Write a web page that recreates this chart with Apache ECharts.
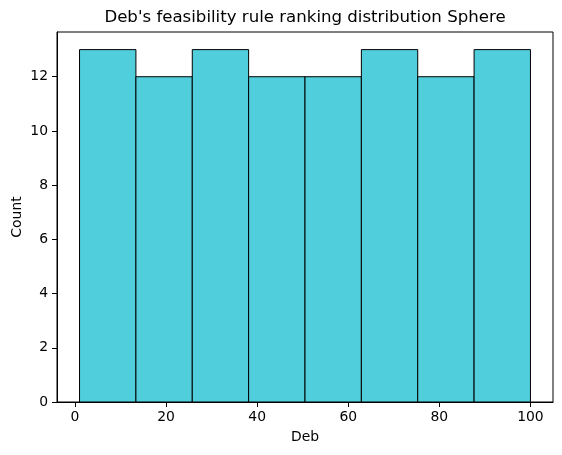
<!DOCTYPE html>
<html>
<head>
<meta charset="utf-8">
<script src="https://cdn.jsdelivr.net/npm/echarts@6/dist/echarts.min.js"></script>
<style>html,body{margin:0;padding:0;background:#fff}#c{width:562px;height:455px}</style>
</head>
<body>
<div id="c"></div>
<script>
const binEdges = [1, 13.375, 25.75, 38.125, 50.5, 62.875, 75.25, 87.625, 100];
const counts = [13, 12, 13, 12, 12, 13, 12, 13];
const xTicks = [0, 20, 40, 60, 80, 100];
const yTicks = [0, 2, 4, 6, 8, 10, 12];
const titleText = "Deb's feasibility rule ranking distribution Sphere";

const data = counts.map((c, i) => [binEdges[i], binEdges[i + 1], c]);
const font = 'DejaVu Sans';
const chart = echarts.init(document.getElementById('c'), null, {renderer: 'canvas'});
chart.setOption({
  animation: false,
  backgroundColor: '#fff',
  graphic: [{
    type: 'text', x: 305, y: 17.5,
    style: {text: titleText, font: '16.6px "DejaVu Sans"', fill: '#000', textAlign: 'center', textVerticalAlign: 'middle'}
  }],
  grid: {left: 57, right: 9, top: 32, bottom: 53, containLabel: false, outerBoundsMode: 'none', show: true, borderColor: '#000', borderWidth: 1, backgroundColor: 'transparent'},
  xAxis: {
    type: 'value', min: -3.95, max: 104.95,
    name: 'Deb', nameLocation: 'middle', nameGap: 28, nameMoveOverlap: false,
    nameTextStyle: {fontFamily: font, fontSize: 13.9, color: '#000'},
    axisLine: {show: true, onZero: false, lineStyle: {color: '#000', width: 1}},
    axisTick: {show: true, inside: false, length: 5, lineStyle: {color: '#000'}, customValues: xTicks},
    axisLabel: {fontFamily: font, fontSize: 13.9, color: '#000', margin: 8, customValues: xTicks},
    splitLine: {show: false}
  },
  yAxis: {
    type: 'value', min: 0, max: 13.65,
    name: 'Count', nameLocation: 'middle', nameGap: 33, nameMoveOverlap: false,
    nameTextStyle: {fontFamily: font, fontSize: 13.9, color: '#000'},
    axisLine: {show: true, onZero: false, lineStyle: {color: '#000', width: 1}},
    axisTick: {show: true, inside: false, length: 5, lineStyle: {color: '#000'}, customValues: yTicks},
    axisLabel: {fontFamily: font, fontSize: 13.9, color: '#000', margin: 9, customValues: yTicks},
    splitLine: {show: false}
  },
  series: [{
    type: 'custom',
    data: data,
    renderItem: function (params, api) {
      const p0 = api.coord([api.value(0), api.value(2)]);
      const p1 = api.coord([api.value(1), 0]);
      return {
        type: 'rect',
        shape: {x: p0[0], y: p0[1], width: p1[0] - p0[0], height: p1[1] - p0[1]},
        style: {fill: '#51cedb', stroke: '#000', lineWidth: 1}
      };
    }
  }]
});
</script>
</body>
</html>
